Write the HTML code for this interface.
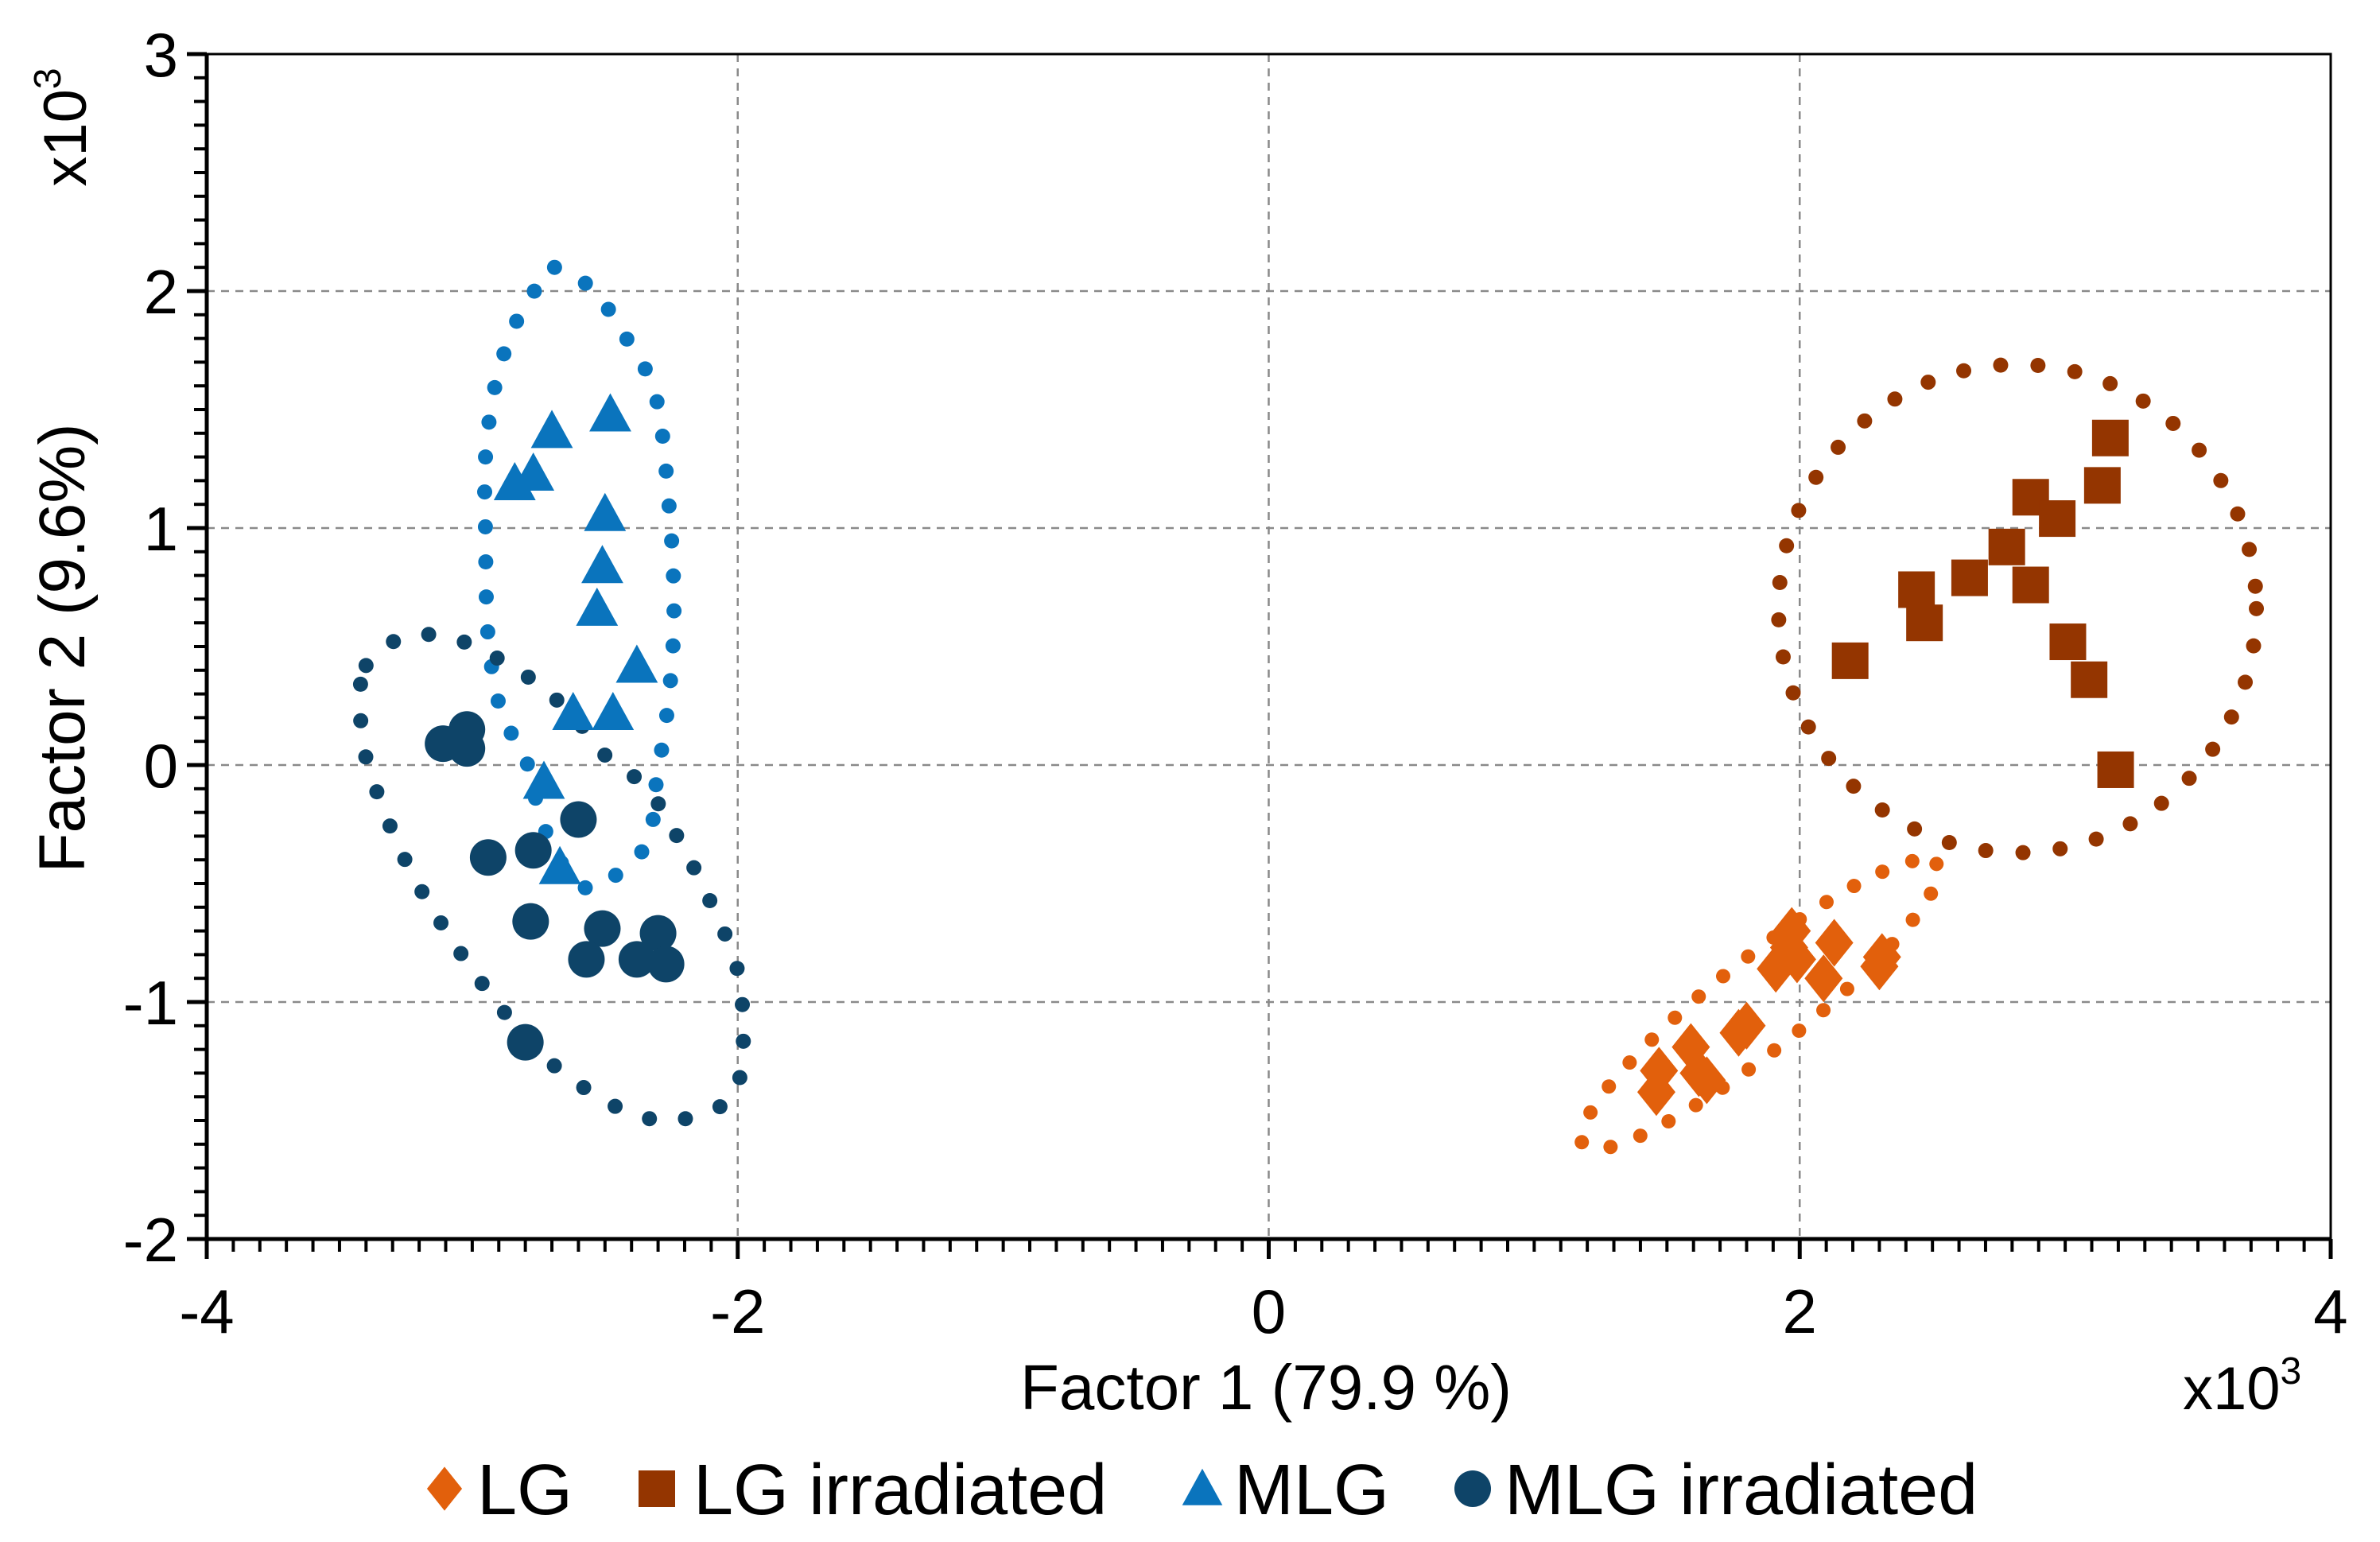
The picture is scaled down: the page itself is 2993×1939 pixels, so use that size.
<!DOCTYPE html>
<html><head><meta charset="utf-8"><style>
html,body{margin:0;padding:0;background:#fff;}
svg{display:block;font-family:"Liberation Sans",Arial,sans-serif;}
</style></head><body>
<svg id="chart" width="2993" height="1939" viewBox="0 0 2993 1939" xmlns="http://www.w3.org/2000/svg">
<rect width="2993" height="1939" fill="#fff"/>
<g id="grid"></g>
<g id="hulls"></g>
<g id="marks"></g>
<g id="axes"></g>
<text x="1592" y="1772" font-size="80" text-anchor="middle">Factor 1 (79.9 %)</text>
<text x="2745" y="1772" font-size="76">x10<tspan dy="-32" font-size="48">3</tspan></text>
<text transform="translate(106,815) rotate(-90)" font-size="82" text-anchor="middle">Factor 2 (9.6%)</text>
<text transform="translate(108,160) rotate(-90)" font-size="76" text-anchor="middle">x10<tspan dy="-32" font-size="48">3</tspan></text>
<g id="legend"></g>
</svg>
<script>
const xTicks = [-4, -2, 0, 2, 4];
const yTicks = [-2, -1, 0, 1, 2, 3];
const seriesNames = ["LG", "LG irradiated", "MLG", "MLG irradiated"];
const seriesColors = ["#E2600C", "#943500", "#0A74BD", "#0E4468"];
const lgX = [1.46,1.47,1.59,1.62,1.65,1.77,1.80,1.91,1.96,1.97,2.09,2.13,2.30,2.31,1.99];
const lgY = [-1.38,-1.29,-1.19,-1.30,-1.33,-1.13,-1.10,-0.86,-0.77,-0.70,-0.90,-0.75,-0.85,-0.81,-0.82];
const lgiX = [3.17,3.14,2.87,2.97,2.78,2.64,2.44,2.87,2.47,3.01,3.09,2.19,3.19];
const lgiY = [1.38,1.18,1.13,1.04,0.92,0.79,0.74,0.76,0.60,0.52,0.36,0.44,-0.02];
const mlgX = [-2.70,-2.48,-2.84,-2.77,-2.50,-2.51,-2.53,-2.38,-2.62,-2.47,-2.73,-2.67];
const mlgY = [1.41,1.48,1.19,1.23,1.06,0.84,0.66,0.42,0.22,0.22,-0.07,-0.43];
const mlgiX = [-3.11,-3.02,-3.02,-2.94,-2.77,-2.60,-2.78,-2.51,-2.57,-2.30,-2.38,-2.27,-2.80];
const mlgiY = [0.09,0.15,0.07,-0.39,-0.36,-0.23,-0.66,-0.69,-0.82,-0.71,-0.82,-0.84,-1.17];
const blueHullX = [-2.69,-2.55,-2.43,-2.31,-2.26,-2.24,-2.26,-2.31,-2.34,-2.49,-2.57,-2.66,-2.74,-2.80,-2.89,-2.94,-2.95,-2.95,-2.91,-2.83,-2.74];
const blueHullY = [2.10,2.01,1.82,1.56,1.11,0.66,0.28,-0.10,-0.33,-0.49,-0.52,-0.42,-0.23,0.03,0.22,0.54,0.98,1.30,1.62,1.88,2.04];
const navyHullX = [-3.40,-3.26,-3.09,-2.94,-2.80,-2.63,-2.49,-2.34,-2.20,-2.09,-2.00,-1.98,-2.03,-2.23,-2.37,-2.51,-2.71,-2.91,-3.11,-3.27,-3.40,-3.42];
const navyHullY = [0.42,0.54,0.54,0.47,0.38,0.22,0.03,-0.10,-0.36,-0.61,-0.87,-1.19,-1.41,-1.50,-1.48,-1.41,-1.25,-1.00,-0.68,-0.36,0.03,0.28];
const brownCircle = [2.82, 0.66, 0.90, 1.03];
const orangeEllipse = [1.85, -1.01, 0.85, 0.19];

const NS = "http://www.w3.org/2000/svg";
const L = 260, R = 2931, T = 68, B = 1558;
const xMin = -4, xMax = 4, yMin = -2, yMax = 3;
function X(v){ return L + (v - xMin) / (xMax - xMin) * (R - L); }
function Y(v){ return B - (v - yMin) / (yMax - yMin) * (B - T); }
function mk(tag, attrs, parent){ const e = document.createElementNS(NS, tag); for (const k in attrs) e.setAttribute(k, attrs[k]); parent.appendChild(e); return e; }

const grid = document.getElementById('grid');
xTicks.forEach(t => { if (t > xMin && t < xMax) {
  const l = mk('line', {x1:X(t), x2:X(t), y1:T, y2:B, stroke:'#8a8a8a', 'stroke-width':2.5, 'stroke-dasharray':'10 8'}, grid);
  
  
}});
yTicks.forEach(t => { if (t > yMin && t < yMax) {
  const l = mk('line', {x1:L, x2:R, y1:Y(t), y2:Y(t), stroke:'#8a8a8a', 'stroke-width':2.5, 'stroke-dasharray':'10 8'}, grid);
  
  
}});

const hulls = document.getElementById('hulls');
function smoothPath(px, py){
  const n = px.length; let d = '';
  const P = i => [X(px[(i+n)%n]), Y(py[(i+n)%n])];
  d += 'M' + P(0).join(',');
  for (let i = 0; i < n; i++) {
    const p0 = P(i-1), p1 = P(i), p2 = P(i+1), p3 = P(i+2);
    const c1 = [p1[0] + (p2[0]-p0[0])/6, p1[1] + (p2[1]-p0[1])/6];
    const c2 = [p2[0] - (p3[0]-p1[0])/6, p2[1] - (p3[1]-p1[1])/6];
    d += 'C' + c1.join(',') + ' ' + c2.join(',') + ' ' + p2.join(',');
  }
  return d + 'Z';
}
const h1 = mk('path', {d:smoothPath(blueHullX, blueHullY), fill:'none', stroke:'#0A74BD', 'stroke-width':19, 'stroke-linecap':'round', 'stroke-dasharray':'0 44'}, hulls);


const h2 = mk('path', {d:smoothPath(navyHullX, navyHullY), fill:'none', stroke:'#0E4468', 'stroke-width':19, 'stroke-linecap':'round', 'stroke-dasharray':'0 46'}, hulls);


const cx = X(brownCircle[0]), cy = Y(brownCircle[1]);
const h3 = mk('ellipse', {cx:cx, cy:cy, rx:X(brownCircle[0]+brownCircle[2])-cx, ry:cy-Y(brownCircle[1]+brownCircle[3]), fill:'none', stroke:'#943500', 'stroke-width':19, 'stroke-linecap':'round', 'stroke-dasharray':'0 47'}, hulls);


const ox = X(orangeEllipse[0]), oy = Y(orangeEllipse[1]);
const h4 = mk('ellipse', {cx:ox, cy:oy, rx:X(orangeEllipse[0]+orangeEllipse[2])-ox, ry:oy-Y(orangeEllipse[1]+orangeEllipse[3]), transform:`rotate(-38.5 ${ox} ${oy})`, fill:'none', stroke:'#E2600C', 'stroke-width':18, 'stroke-linecap':'round', 'stroke-dasharray':'0 40'}, hulls);



const marks = document.getElementById('marks');
function shape(kind, x, y, s, color, parent){
  let e;
  if (kind === 0) e = mk('polygon', {points:`${x},${y-s*0.6} ${x+s*0.48},${y} ${x},${y+s*0.6} ${x-s*0.48},${y}`, fill:color}, parent);
  else if (kind === 1) e = mk('rect', {x:x-s/2, y:y-s/2, width:s, height:s, fill:color}, parent);
  else if (kind === 2) e = mk('polygon', {points:`${x},${y-s*0.55} ${x+s*0.55},${y+s*0.45} ${x-s*0.55},${y+s*0.45}`, fill:color}, parent);
  else e = mk('circle', {cx:x, cy:y, r:s/2, fill:color}, parent);
  return e;
}
const allX = [lgX, lgiX, mlgX, mlgiX], allY = [lgY, lgiY, mlgY, mlgiY];
const sizes = [50, 46, 48, 46];
const markNames = ['lg-point', 'lg-irradiated-point', 'mlg-point', 'mlg-irradiated-point'];
for (let s = 0; s < 4; s++) {
  for (let i = 0; i < allX[s].length; i++) {
    const e = shape(s, X(allX[s][i]), Y(allY[s][i]), sizes[s], seriesColors[s], marks);
    
    
  }
}

const axes = document.getElementById('axes');
const frame = mk('rect', {x:L, y:T, width:R-L, height:B-T, fill:'none', stroke:'#000', 'stroke-width':3}, axes);


const xl = mk('line', {x1:L, x2:R, y1:B, y2:B, stroke:'#000', 'stroke-width':5}, axes);


const yl = mk('line', {x1:L, x2:L, y1:T, y2:B, stroke:'#000', 'stroke-width':5}, axes);


for (let k = 0; k <= 80; k++) {
  const v = xMin + k * 0.1, major = k % 20 === 0;
  const t = mk('line', {x1:X(v), x2:X(v), y1:B, y2:B + (major ? 25 : 16), stroke:'#000', 'stroke-width':major ? 5 : 4}, axes);
  
  
}
for (let k = 0; k <= 50; k++) {
  const v = yMin + k * 0.1, major = k % 10 === 0;
  const t = mk('line', {x1:L - (major ? 25 : 16), x2:L, y1:Y(v), y2:Y(v), stroke:'#000', 'stroke-width':major ? 5 : 4}, axes);
  
  
}
xTicks.forEach(t => {
  const e = mk('text', {x:X(t), y:B + 118, 'font-size':78, 'text-anchor':'middle'}, axes);
  e.textContent = t;
  
  
});
yTicks.forEach(t => {
  const e = mk('text', {x:L - 36, y:Y(t) + 28, 'font-size':78, 'text-anchor':'end'}, axes);
  e.textContent = t;
  
  
});

const legend = document.getElementById('legend');
const legMarkX = [559, 826, 1512, 1852];
const legTextX = [600, 872, 1552, 1892];
for (let s = 0; s < 4; s++) {
  const g = mk('g', {}, legend);
  
  
  const m = shape(s, legMarkX[s], 1872, 46, seriesColors[s], g);
  
  
  const tx = mk('text', {x:legTextX[s], y:1904, 'font-size':90}, g);
  tx.textContent = seriesNames[s];
  
  
}
</script>
</body></html>
